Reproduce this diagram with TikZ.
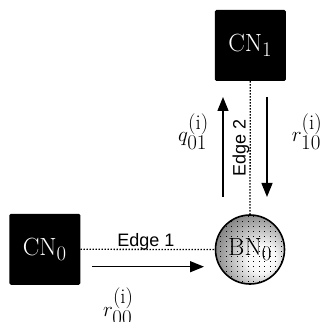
\RequirePackage{fix-cm}
\documentclass[tikz,border=0pt]{standalone}
\usepackage{fontspec}
\newfontfamily\edgefont{Liberation Sans}
\usetikzlibrary{arrows.meta,patterns}
\pgfdeclarepatternformonly{bndots}{\pgfpoint{-0.1pt}{-0.1pt}}{\pgfpoint{5.5pt}{5pt}}{\pgfpoint{5.5pt}{5pt}}{%
  \pgfpathrectangle{\pgfpoint{0pt}{0pt}}{\pgfpoint{0.8pt}{1.3pt}}\pgfusepath{fill}}
\pgfdeclareradialshading{bnball}{\pgfpoint{10bp}{-8bp}}{%
  color(0bp)=(white);
  color(10bp)=(white!97!black);
  color(30bp)=(black!45);
  color(46bp)=(black!72);
  color(70bp)=(black!82)}
\newcommand{\cnfont}{\fontsize{24.88pt}{30pt}\selectfont}
\newcommand{\mlfont}{\fontsize{21pt}{25pt}\selectfont}
\tikzset{
  cnbox/.style={fill=black, rounded corners=1.5pt, minimum width=71pt, minimum height=71pt,
    text=white, inner sep=0pt, font=\cnfont},
  bnnode/.style={circle, draw=black, line width=1.6pt, minimum size=69pt, inner sep=0pt,
    shading=bnball, postaction={pattern=bndots, pattern color=black}, font=\cnfont},
  edgeline/.style={line width=1.3pt, dash pattern=on 1.4pt off 1.6pt},
  msgarrow/.style={line width=1.4pt, -{Triangle[length=14pt,width=11pt]}},
  edgelabel/.style={font=\edgefont\fontsize{18pt}{21pt}\selectfont, inner sep=0pt},
  msglabel/.style={font=\mlfont, inner sep=0pt}
}
\begin{document}
\begin{tikzpicture}[x=1pt,y=1pt]
\useasboundingbox (0,0) rectangle (321,322);
\node[cnbox] (CN0) at (44.8,72.7) {CN$_0$};
\node[cnbox] (CN1) at (250.3,276.5) {CN$_1$};
\node[bnnode] (BN0) at (250,72.5) {BN$_0$};
\draw[edgeline] (CN0.east) -- (BN0.west);
\draw[edgeline] (CN1.south) -- (BN0.north);
\node[edgelabel] (E1) at (146,80.5) {Edge 1};
\node[edgelabel, rotate=90] (E2) at (241,174) {Edge 2};
\coordinate (a1s) at (92,55.3);
\coordinate (a1e) at (204,55.3);
\coordinate (a2s) at (223,125);
\coordinate (a2e) at (223,225);
\coordinate (a3s) at (267,225);
\coordinate (a3e) at (267,125);
\draw[msgarrow] (a1s) -- (a1e);
\draw[msgarrow] (a2s) -- (a2e);
\draw[msgarrow] (a3s) -- (a3e);
\node[msglabel, anchor=north west] (q01) at (178,208.7) {$q_{\textstyle 01}^{\textstyle (\mathrm{i})}$};
\node[msglabel, anchor=north west] (r10) at (291.7,208.7) {$r_{\textstyle 10}^{\textstyle (\mathrm{i})}$};
\node[msglabel, anchor=north west] (r00) at (103,34) {$r_{\textstyle 00}^{\textstyle (\mathrm{i})}$};
\end{tikzpicture}
\end{document}
